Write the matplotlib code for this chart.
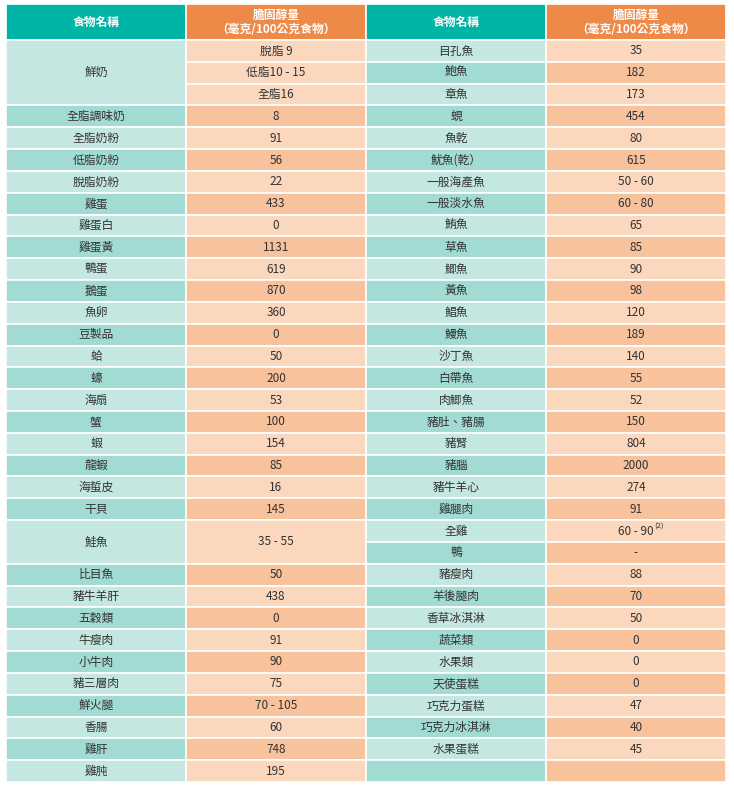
import matplotlib.pyplot as plt
from matplotlib.patches import Rectangle

plt.rcParams["font.family"] = ["Noto Sans CJK TC", "DejaVu Sans"]

header_name = "食物名稱"
header_value = "膽固醇量\n（毫克/100公克食物）"

# left half: names with row spans, values one per row
left_names = ["鮮奶", "全脂調味奶", "全脂奶粉", "低脂奶粉", "脫脂奶粉", "雞蛋", "雞蛋白", "雞蛋黃",
              "鴨蛋", "鵝蛋", "魚卵", "豆製品", "蛤", "蠔", "海扇", "蟹", "蝦", "龍蝦", "海蜇皮",
              "干貝", "鮭魚", "比目魚", "豬牛羊肝", "五穀類", "牛瘦肉", "小牛肉", "豬三層肉",
              "鮮火腿", "香腸", "雞肝", "雞肫"]
left_spans = [3] + [1] * 19 + [2] + [1] * 10
left_values = ["脫脂 9", "低脂10 - 15", "全脂16", "8", "91", "56", "22", "433", "0", "1131",
               "619", "870", "360", "0", "50", "200", "53", "100", "154", "85", "16", "145",
               "35 - 55", "50", "438", "0", "91", "90", "75", "70 - 105", "60", "748", "195"]
left_value_spans = [1] * 22 + [2] + [1] * 10

right_names = ["目孔魚", "鮑魚", "章魚", "蜆", "魚乾", "魷魚(乾）", "一般海產魚", "一般淡水魚",
               "鮪魚", "草魚", "鯽魚", "黃魚", "鯧魚", "鰻魚", "沙丁魚", "白帶魚", "肉鯽魚",
               "豬肚、豬腸", "豬腎", "豬腦", "豬牛羊心", "雞腿肉", "全雞", "鴨", "豬瘦肉",
               "羊後腿肉", "香草冰淇淋", "蔬菜類", "水果類", "天使蛋糕", "巧克力蛋糕",
               "巧克力冰淇淋", "水果蛋糕", ""]
right_values = ["35", "182", "173", "454", "80", "615", "50 - 60", "60 - 80", "65", "85", "90",
                "98", "120", "189", "140", "55", "52", "150", "804", "2000", "274", "91",
                "60 - 90", "-", "88", "70", "50", "0", "0", "0", "47", "40", "45", ""]
footnote_row = 22
footnote = "(2)"

teal_head, orange_head = "#00b5a5", "#ee8a48"
teal = ["#c4e7e2", "#a2dbd4"]
orange = ["#fbd7bd", "#f7c29c"]

W, H = 734, 788
x0, cw = 6, 180
y0, hh = 4, 36
rh = (782 - 40) / 34

fig = plt.figure(figsize=(W / 100, H / 100), dpi=100)
ax = fig.add_axes([0, 0, 1, 1])
ax.set_xlim(0, W)
ax.set_ylim(H, 0)
ax.axis("off")


def cell(col, row, span, color, text, fs=8.5, tc="#333333"):
    x = x0 + col * cw
    y = 40 + row * rh
    ax.add_patch(Rectangle((x, y), cw, span * rh, facecolor=color, edgecolor="white", lw=1.2))
    ax.text(x + cw / 2, y + span * rh / 2, text, ha="center", va="center", fontsize=fs, color=tc)


# header
for c in range(4):
    color = teal_head if c % 2 == 0 else orange_head
    x = x0 + c * cw
    ax.add_patch(Rectangle((x, y0), cw, hh, facecolor=color, edgecolor="white", lw=1.2))
    txt = header_name if c % 2 == 0 else header_value
    ax.text(x + cw / 2, y0 + hh / 2, txt, ha="center", va="center", fontsize=8.5,
            color="white", fontweight="bold", linespacing=1.1)

row = 0
for k, (name, span) in enumerate(zip(left_names, left_spans)):
    cell(0, row, span, teal[k % 2], name)
    row += span

row = 0
for j, (v, span) in enumerate(zip(left_values, left_value_spans)):
    item = 0 if j < 3 else j - 2
    cell(1, row, span, orange[item % 2], v)
    row += span

for i, (n, v) in enumerate(zip(right_names, right_values)):
    cell(2, i, 1, teal[i % 2], n)
    cell(3, i, 1, orange[i % 2], v)
    if i == footnote_row:
        ax.text(x0 + 3 * cw + cw / 2 + 18, 40 + i * rh + rh * 0.3, footnote,
                ha="left", va="center", fontsize=5.5, color="#333333")

fig.savefig("out.png", dpi=100)
